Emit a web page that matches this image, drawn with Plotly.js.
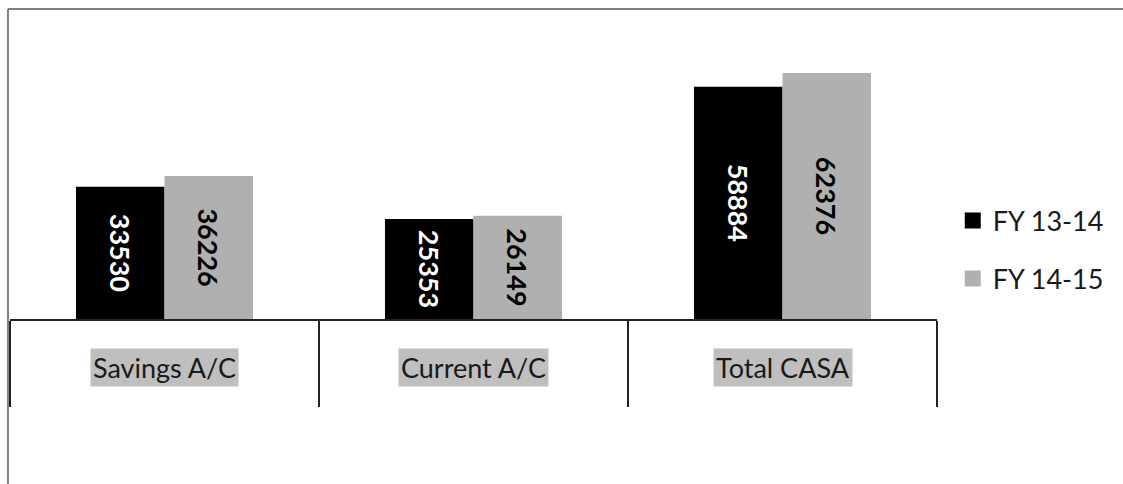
<!DOCTYPE html>
<html>
<head>
<meta charset="utf-8">
<script src="https://cdn.plot.ly/plotly-3.0.1.min.js"></script>
<style>html,body{margin:0;padding:0;background:#fff;}#chart{width:1123px;height:484px;}</style>
</head>
<body>
<div id="chart"></div>
<script>
var categories = ["Savings A/C", "Current A/C", "Total CASA"];
var seriesNames = ["FY 13-14", "FY 14-15"];
var fy1314 = [33530, 25353, 58884];
var fy1415 = [36226, 26149, 62376];

var colors = ["#000000", "#b0b0b0"];
var textColors = ["#ffffff", "#000000"];
var values = [fy1314, fy1415];

var traces = [];
values.forEach(function (vals, i) {
  traces.push({
    type: "bar",
    x: categories,
    y: vals,
    name: seriesNames[i],
    marker: {color: colors[i], line: {width: 0}},
    text: vals.map(String),
    textposition: "inside",
    insidetextanchor: "middle",
    textangle: 90,
    textfont: {family: "Lato", size: 27, color: textColors[i], weight: "bold"},
    showlegend: false,
    hoverinfo: "skip"
  });
});
values.forEach(function (vals, i) {
  traces.push({
    type: "scatter",
    mode: "markers",
    x: [null],
    y: [null],
    name: seriesNames[i],
    legendgroup: "g" + i,
    marker: {symbol: "square", size: 18, color: colors[i]},
    hoverinfo: "skip"
  });
});

var annotations = categories.map(function (c) {
  return {
    x: c, xref: "x", y: -0.158, yref: "paper",
    text: c, showarrow: false, yanchor: "middle",
    font: {family: "Lato", size: 27, color: "#1a1a1a"},
    bgcolor: "#bfbfbf", borderpad: 2
  };
});

var layout = {
  width: 1123, height: 484,
  margin: {l: 10, r: 186, t: 9, b: 165, pad: 0},
  paper_bgcolor: "#ffffff", plot_bgcolor: "#ffffff",
  barmode: "group", bargap: 0.427, bargroupgap: 0,
  xaxis: {
    type: "category", showgrid: false, zeroline: false,
    showline: true, linecolor: "#222", linewidth: 2,
    ticks: "outside", tickson: "boundaries", ticklen: 86, tickwidth: 2, tickcolor: "#222",
    showticklabels: false, fixedrange: true
  },
  yaxis: {visible: false, range: [0, 78600], fixedrange: true},
  showlegend: true,
  legend: {
    x: 1.017, xanchor: "left", y: 0.223, yanchor: "middle",
    font: {family: "Lato", size: 27, color: "#1a1a1a"},
    traceorder: "grouped", tracegroupgap: 20,
    bgcolor: "rgba(0,0,0,0)", borderwidth: 0
  },
  annotations: annotations,
  shapes: [
    {type: "line", xref: "paper", yref: "paper", x0: -0.0022, x1: 1.3, y0: 1, y1: 1, line: {color: "#808080", width: 2}},
    {type: "line", xref: "paper", yref: "paper", x0: -0.0022, x1: -0.0022, y0: 1, y1: -0.6, line: {color: "#808080", width: 2}}
  ]
};

Plotly.newPlot("chart", traces, layout, {displayModeBar: false, staticPlot: true});
</script>
</body>
</html>
